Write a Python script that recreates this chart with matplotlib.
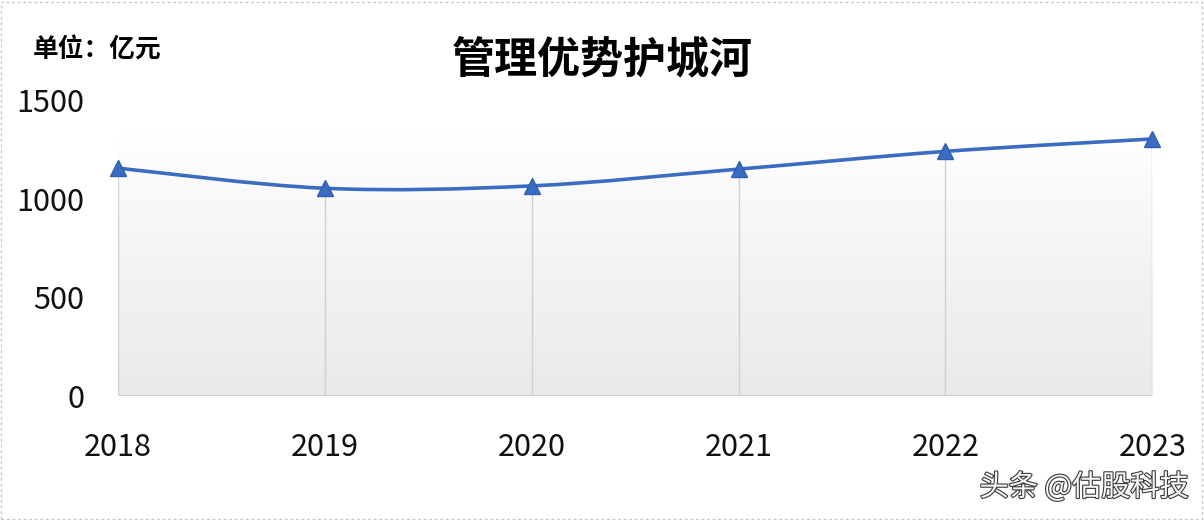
import numpy as np
import matplotlib
matplotlib.use('Agg')
from matplotlib import pyplot as plt
from matplotlib.path import Path
from matplotlib.patches import PathPatch, Rectangle
import matplotlib.patheffects as pe

plt.rcParams['font.family'] = ['Noto Sans CJK SC', 'DejaVu Sans']

YEARS = [2018, 2019, 2020, 2021, 2022, 2023]
VALUES = [1155, 1053, 1065, 1150, 1240, 1303]  # 亿元
YTICKS = [0, 500, 1000, 1500]
TITLE = '管理优势护城河'
UNIT = '单位：亿元'
WATERMARK = '头条 @估股科技'

LINE_COLOR = '#3a6cc2'

fig = plt.figure(figsize=(12.04, 5.2), dpi=100)
ax = fig.add_axes([0.098, 0.2385, 0.859, 0.569])

x = np.array(YEARS, dtype=float)
y = np.array(VALUES, dtype=float)

# gradient backdrop of the plot area, white on top to light grey at the bottom
grad = np.linspace(0, 1, 256).reshape(-1, 1)
cmap = matplotlib.colors.LinearSegmentedColormap.from_list('g', ['#ffffff', '#f3f3f3', '#eaeaea'])
ax.imshow(grad, extent=(x[0], x[-1], 0, 1330), aspect='auto', cmap=cmap,
          origin='upper', zorder=0, interpolation='bilinear')

# drop lines
for xi, yi in zip(x, y):
    ax.plot([xi, xi], [0, yi], color='#d0d0d0', lw=1, zorder=1)
ax.axhline(0, color='#c8c8c8', lw=1.2, zorder=1)

# smooth line via bezier segments (catmull-rom control points)
verts = [(x[0], y[0])]
codes = [Path.MOVETO]
n = len(x)
for i in range(n - 1):
    p0 = (x[max(i - 1, 0)], y[max(i - 1, 0)])
    p1 = (x[i], y[i])
    p2 = (x[i + 1], y[i + 1])
    p3 = (x[min(i + 2, n - 1)], y[min(i + 2, n - 1)])
    t = 1 / 6
    c1 = (p1[0] + (p2[0] - p0[0]) * t, p1[1] + (p2[1] - p0[1]) * t)
    c2 = (p2[0] - (p3[0] - p1[0]) * t, p2[1] - (p3[1] - p1[1]) * t)
    verts += [c1, c2, p2]
    codes += [Path.CURVE4] * 3
ax.add_patch(PathPatch(Path(verts, codes), facecolor='none', edgecolor=LINE_COLOR,
                       lw=2.6, zorder=3, capstyle='round'))
ax.plot(x, y, linestyle='none', marker='^', markersize=11, color=LINE_COLOR,
        markeredgecolor='#2f5fb0', zorder=4, clip_on=False)

ax.set_xlim(x[0], x[-1])
ax.set_ylim(0, 1500)
ax.set_yticks(YTICKS)
ax.set_xticks(YEARS)
ax.tick_params(length=0, labelsize=22, colors='#111111')
ax.tick_params(axis='y', pad=24)
ax.tick_params(axis='x', pad=26)
for s in ax.spines.values():
    s.set_visible(False)
ax.set_facecolor('none')

fig.text(0.5, 0.883, TITLE, ha='center', va='center', fontsize=31, fontweight='bold')
fig.text(0.027, 0.903, UNIT, ha='left', va='center', fontsize=18.5, fontweight='bold')
fig.text(0.987, 0.062, WATERMARK, ha='right', va='center', fontsize=21, color='#f6f6f6',
         path_effects=[pe.withStroke(linewidth=1.6, foreground='#3a3a3a')])

# light dashed frame around the picture
fig.patches.append(Rectangle((0.001, 0.002), 0.997, 0.995, transform=fig.transFigure,
                             fill=False, edgecolor='#c8c8c8', lw=1, linestyle=(0, (2, 2))))

fig.savefig('out.png', dpi=100)
